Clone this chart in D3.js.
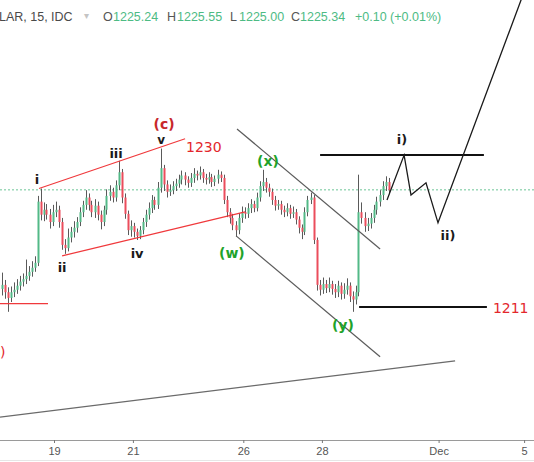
<!DOCTYPE html>
<html><head><meta charset="utf-8">
<script src="https://cdn.jsdelivr.net/npm/d3@7"></script>
<style>
html,body{margin:0;padding:0;background:#fff;}
svg{display:block;font-family:"Liberation Sans",Arial,sans-serif;}
</style></head>
<body>
<svg id="chart" width="534" height="462"></svg>
<script>
// ---------- DATA ----------
const symbolText = "LAR, 15, IDC";
const ohlcLabels = ["O","H","L","C"];
const ohlcValues = ["1225.24","1225.55","1225.00","1225.34"];
const changeText = "+0.10 (+0.01%)";
const lastPrice = 1225.34;

const opens = [1213.2,1213.7,1212.8,1212.1,1212.8,1213.1,1213.6,1214.1,1214.4,1214.8,
1215.3,1215.8,1216.4,1223.9,1222.3,1222.9,1222.3,1221.4,1222.6,1222.9,
1221.4,1218.6,1218.2,1219.5,1220.2,1220.7,1221.4,1222.6,1223.5,1224.4,
1223.5,1222.6,1223.4,1222.3,1221.4,1222.9,1224.6,1225.1,1224.4,1225.9,
1227.5,1224.4,1222.4,1220.4,1220.9,1220.2,1219.7,1220.4,1221.4,1222.3,
1223.1,1224.1,1223.5,1225.6,1228.0,1226.0,1225.1,1225.3,1225.8,1226.1,
1226.6,1227.1,1226.6,1226.2,1226.8,1227.3,1227.1,1227.5,1226.8,1226.6,
1226.9,1226.3,1226.7,1227.2,1226.8,1224.1,1222.6,1221.9,1221.0,1220.4,
1221.9,1222.6,1222.4,1223.1,1223.6,1223.1,1224.4,1225.8,1226.3,1225.6,
1225.1,1224.1,1223.4,1223.6,1222.9,1222.6,1223.1,1222.4,1222.6,1221.7,
1220.7,1220.2,1222.6,1224.1,1224.4,1219.2,1213.7,1213.1,1213.8,1213.3,
1213.8,1213.2,1212.8,1213.6,1212.6,1213.1,1213.6,1212.3,1211.9,1212.8,
1222.6,1221.9,1220.9,1221.2,1221.9,1222.9,1223.9,1224.7,1225.8,1226.3];

const closes = [1213.7,1212.8,1212.1,1212.8,1213.1,1213.6,1214.1,1214.4,1214.8,1215.3,
1215.8,1216.4,1223.9,1222.3,1222.9,1222.3,1221.4,1222.6,1222.9,1221.4,
1218.6,1218.2,1219.5,1220.2,1220.7,1221.4,1222.6,1223.5,1224.4,1223.5,
1222.6,1223.4,1222.3,1221.4,1222.9,1224.6,1225.1,1224.4,1225.9,1227.5,
1224.4,1222.4,1220.4,1220.9,1220.2,1219.7,1220.4,1221.4,1222.3,1223.1,
1224.1,1223.5,1225.6,1228.0,1226.0,1225.1,1225.3,1225.8,1226.1,1226.6,
1227.1,1226.6,1226.2,1226.8,1227.3,1227.1,1227.5,1226.8,1226.6,1226.9,
1226.3,1226.7,1227.2,1226.8,1224.1,1222.6,1221.9,1221.0,1220.4,1221.9,
1222.6,1222.4,1223.1,1223.6,1223.1,1224.4,1225.8,1226.3,1225.6,1225.1,
1224.1,1223.4,1223.6,1222.9,1222.6,1223.1,1222.4,1222.6,1221.7,1220.7,
1220.2,1222.6,1224.1,1224.4,1219.2,1213.7,1213.1,1213.8,1213.3,1213.8,
1213.2,1212.8,1213.6,1212.6,1213.1,1213.6,1212.3,1211.9,1212.8,1222.6,
1221.9,1220.9,1221.2,1221.9,1222.9,1223.9,1224.7,1225.8,1226.3,1225.3];

const highs = [1215.2,1214.3,1213.4,1213.5,1214.0,1214.4,1214.8,1215.1,1216.8,1216.0,
1216.6,1217.2,1224.6,1225.5,1223.8,1223.6,1223.0,1223.5,1223.9,1223.4,
1221.9,1219.3,1220.6,1220.8,1221.5,1222.0,1223.2,1224.0,1225.3,1224.9,
1224.0,1224.2,1223.9,1222.8,1223.4,1225.4,1225.9,1225.6,1226.5,1228.9,
1227.9,1224.9,1222.8,1221.6,1221.3,1220.6,1220.9,1221.9,1222.9,1223.8,
1224.7,1224.5,1226.3,1230.4,1228.4,1226.5,1226.0,1226.4,1226.7,1227.2,
1227.7,1227.5,1227.0,1227.4,1228.0,1227.7,1228.2,1227.9,1227.3,1227.5,
1227.3,1227.1,1227.8,1227.6,1227.2,1224.6,1223.1,1222.4,1221.5,1222.5,
1223.3,1223.2,1223.7,1224.2,1224.0,1225.0,1226.4,1227.8,1226.8,1226.1,
1225.5,1224.6,1224.1,1224.0,1223.4,1223.7,1223.5,1223.3,1223.0,1222.1,
1221.1,1223.2,1224.6,1225.0,1224.7,1219.5,1214.3,1214.6,1214.3,1214.6,
1214.2,1213.8,1214.2,1214.0,1213.9,1214.5,1214.0,1212.9,1213.6,1227.2,
1223.8,1222.6,1221.9,1222.5,1223.5,1224.5,1225.3,1226.4,1227.0,1226.8];

const lows = [1212.4,1212.0,1210.4,1211.6,1212.2,1212.6,1213.0,1213.5,1213.8,1214.2,
1214.7,1215.3,1216.0,1221.6,1221.5,1221.7,1220.6,1220.9,1222.0,1220.7,
1218.0,1217.5,1217.8,1218.9,1219.5,1220.1,1220.9,1222.0,1222.9,1222.8,
1222.0,1221.9,1221.6,1220.5,1220.9,1222.3,1224.0,1223.8,1223.9,1225.3,
1223.7,1221.8,1219.8,1219.6,1219.5,1219.2,1219.3,1219.9,1220.8,1221.7,
1222.5,1222.9,1223.0,1225.0,1225.2,1224.4,1224.6,1224.8,1225.2,1225.6,
1226.0,1225.9,1225.6,1225.7,1226.2,1226.5,1226.6,1226.2,1226.0,1226.1,
1225.7,1225.8,1226.1,1226.3,1223.6,1222.0,1221.2,1220.4,1219.6,1219.9,
1221.3,1221.8,1221.9,1222.5,1222.6,1222.7,1223.9,1225.2,1225.0,1224.5,
1223.5,1222.8,1222.9,1222.3,1222.0,1222.1,1221.8,1221.9,1221.1,1220.0,
1219.3,1219.8,1222.1,1223.6,1218.7,1213.0,1212.4,1212.6,1212.7,1212.8,
1212.5,1212.1,1212.2,1211.9,1212.0,1212.5,1211.6,1210.4,1211.3,1212.3,
1221.2,1220.2,1220.3,1220.6,1221.3,1222.3,1223.3,1224.1,1225.2,1224.8];

// x axis ticks (position in 15-min bar units) and their labels
const tickPositions = [17.5, 43.8, 80.6, 106.8, 145.7, 174.2];
const tickLabels = ["19","21","26","28","Dec","5"];

// drawn lines: [barIndex, price] pairs
const redLeftLevel = [[-0.5,1211.4],[15.5,1211.4]];
const redUpperWedge = [[12.5,1225.5],[61.2,1231.6]];
const redLowerWedge = [[20.2,1217.25],[81.2,1222.65]];
const channelUpper = [[78.5,1232.8],[126.2,1218.1]];
const channelLower = [[78.2,1219.7],[126.2,1204.9]];
const longTrend = [[-0.5,1197.5],[151.2,1204.4]];
const resistance = [[106.2,1229.6],[160.8,1229.6]];
const support1211 = [[119.2,1211.0],[161.8,1211.0]];
const projection = [[128.5,1224.1],[134.2,1229.6],[136.5,1224.7],[141.5,1226.2],[145.5,1221.3],[174.2,1249.6]];

// wave labels: text, barIndex, price, colour group
const waveLabels = [
  ["i", 11.8, 1226.1, "black"],
  ["ii", 20.2, 1215.3, "black"],
  ["iii", 38.2, 1229.2, "black"],
  ["iv", 45.2, 1217.0, "black"],
  ["v", 53.2, 1231.0, "black"],
  ["(c)", 54.2, 1232.8, "red"],
  ["(w)", 76.8, 1217.0, "green"],
  ["(x)", 88.8, 1228.3, "green"],
  ["(y)", 113.8, 1208.2, "green"],
  ["i)", 133.5, 1231.0, "black"],
  ["ii)", 148.8, 1219.2, "black"]
];
const levelLabels = [
  ["1230", 61.5, 1230.0],
  ["1211", 163.8, 1210.3],
  [")", -0.5, 1204.9]
];

// ---------- DRAW ----------
const W = 534, H = 462;
const svg = d3.select("#chart");
const x = d3.scaleLinear().domain([0, 129]).range([1.5, 388.5]);
const y = d3.scaleLinear().domain([1195, 1248.6]).range([437.5, 0]);

const candles = opens.map((o,i)=>({i, o, h:highs[i], l:lows[i], c:closes[i]}));

const colors = {black:"#1a1a1a", red:"#c8282b", green:"#1fa32a"};
const up = "#53b987", down = "#eb4d5c";

// last price dotted line
svg.append("line").attr("x1",0).attr("x2",W)
  .attr("y1",y(lastPrice)).attr("y2",y(lastPrice))
  .attr("stroke","#6cc596").attr("stroke-width",1).attr("stroke-dasharray","2,2");

// candles
const cg = svg.append("g");
cg.selectAll("line.wick").data(candles).join("line")
  .attr("class","wick")
  .attr("x1",d=>Math.round(x(d.i))+0.5).attr("x2",d=>Math.round(x(d.i))+0.5)
  .attr("y1",d=>y(d.h)).attr("y2",d=>y(d.l))
  .attr("stroke","#5a5a5a").attr("stroke-width",1);
cg.selectAll("rect.body").data(candles).join("rect")
  .attr("class","body")
  .attr("x",d=>Math.round(x(d.i))-0.5)
  .attr("width",2)
  .attr("y",d=>y(Math.max(d.o,d.c)))
  .attr("height",d=>Math.max(1, Math.abs(y(d.o)-y(d.c))))
  .attr("fill",d=>d.c>=d.o?up:down);

const line = d3.line().x(d=>x(d[0])).y(d=>y(d[1]));
function drawLine(pts, color, w){
  svg.append("path").attr("d", line(pts)).attr("fill","none")
    .attr("stroke", color).attr("stroke-width", w).attr("stroke-linejoin","miter");
}
drawLine(redLeftLevel, "#f0393c", 1.2);
drawLine(redUpperWedge, "#f0393c", 1.2);
drawLine(redLowerWedge, "#f0393c", 1.2);
drawLine(channelUpper, "#5c5c5c", 1.2);
drawLine(channelLower, "#5c5c5c", 1.2);
drawLine(longTrend, "#6a6a6a", 1.3);
drawLine(resistance, "#111", 2);
drawLine(support1211, "#111", 2);
drawLine(projection, "#1a1a1a", 1.3);

// wave labels
svg.append("g").selectAll("text").data(waveLabels).join("text")
  .attr("x",d=>x(d[1])).attr("y",d=>y(d[2]))
  .attr("text-anchor","middle")
  .attr("font-size", d=>d[0].startsWith("(")?14:(d[0]==="v"?12:13))
  .attr("font-weight","bold")
  .attr("font-family","'DejaVu Sans',Arial,sans-serif")
  .attr("fill",d=>colors[d[3]])
  .text(d=>d[0]);

svg.append("g").selectAll("text").data(levelLabels).join("text")
  .attr("x",d=>x(d[1])).attr("y",d=>y(d[2]))
  .attr("font-size",14)
  .attr("font-family","'DejaVu Sans',Arial,sans-serif")
  .attr("fill","#e3272c")
  .text(d=>d[0]);

// x axis
const axisY = 440;
svg.append("line").attr("x1",0).attr("x2",W).attr("y1",axisY+0.5).attr("y2",axisY+0.5)
  .attr("stroke","#9a9a9a").attr("stroke-width",1);
svg.append("line").attr("x1",0).attr("x2",W).attr("y1",460.5).attr("y2",460.5)
  .attr("stroke","#e6e6e6").attr("stroke-width",1);
const axis = d3.axisBottom(x).tickValues(tickPositions)
  .tickFormat((d,i)=>tickLabels[i]).tickSize(3).tickPadding(4);
const ag = svg.append("g").attr("transform",`translate(0,${axisY})`).call(axis);
ag.select(".domain").remove();
ag.selectAll(".tick line").attr("stroke","#777");
ag.selectAll(".tick text").attr("fill","#555").attr("font-size",11)
  .attr("font-family","'Liberation Sans',Arial,sans-serif");

// header
const hg = svg.append("g").attr("font-size",12.5).attr("font-family","'Liberation Sans',Arial,sans-serif");
hg.append("text").attr("x",-1).attr("y",21).attr("fill","#4a4a4a").text(symbolText);
hg.append("text").attr("x",84).attr("y",19).attr("fill","#c4c4c4").attr("font-size",10).text("\u25BE");
const labX = [103,167,230,291];
const valX = [113,177,239,300];
ohlcLabels.forEach((t,i)=>{
  hg.append("text").attr("x",labX[i]).attr("y",21).attr("fill","#555").text(t);
  hg.append("text").attr("x",valX[i]).attr("y",21).attr("fill","#4dbb84").text(ohlcValues[i]);
});
hg.append("text").attr("x",355).attr("y",21).attr("fill","#4dbb84").text(changeText);
</script>
</body></html>
